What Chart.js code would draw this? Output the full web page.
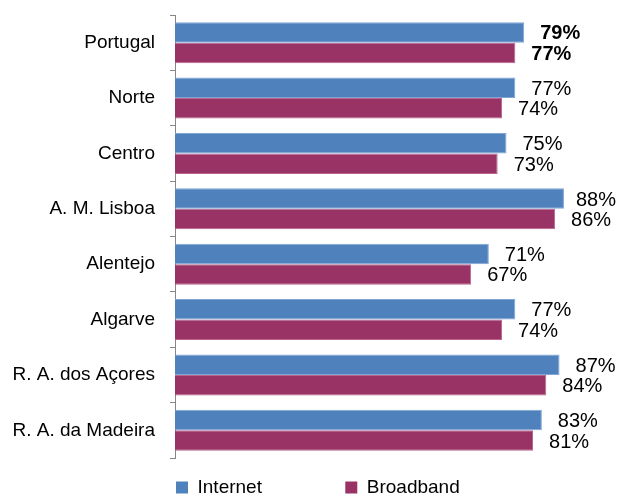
<!DOCTYPE html>
<html>
<head>
<meta charset="utf-8">
<script src="https://cdn.jsdelivr.net/npm/chart.js@4"></script>
<style>
  html, body { margin: 0; padding: 0; background: #fff; }
  #wrap { width: 617px; height: 496px; }
</style>
</head>
<body>
<div id="wrap"><canvas id="regionChart" width="617" height="496"></canvas></div>
<script>
const categories = ["Portugal", "Norte", "Centro", "A. M. Lisboa", "Alentejo", "Algarve", "R. A. dos Açores", "R. A. da Madeira"];
const internetValues = [79, 77, 75, 88, 71, 77, 87, 83];
const broadbandValues = [77, 74, 73, 86, 67, 74, 84, 81];
const seriesNames = ["Internet", "Broadband"];
const boldCategory = "Portugal";

const FONT = "'Liberation Sans', Arial, sans-serif";

// value labels to the right of each bar
const valueLabels = {
    id: "valueLabels",
    afterDatasetsDraw(chart) {
        const ctx = chart.ctx;
        ctx.save();
        ctx.fillStyle = "#000";
        ctx.textBaseline = "middle";
        ctx.textAlign = "left";
        chart.data.datasets.forEach((ds, di) => {
            const meta = chart.getDatasetMeta(di);
            meta.data.forEach((bar, i) => {
                const bold = chart.data.labels[i] === boldCategory;
                ctx.font = (bold ? "bold " : "") + "20px " + FONT;
                const txt = ds.data[i] + "%";
                const w = ctx.measureText(txt).width;
                let x = bar.x + 16;
                if (x + w > chart.width - 1) x = chart.width - 1 - w;
                ctx.fillText(txt, x, bar.y + 1.5);
            });
        });
        ctx.restore();
    }
};

const ctx = document.getElementById("regionChart").getContext("2d");
window.regionChart = new Chart(ctx, {
    type: "bar",
    data: {
        labels: categories,
        datasets: [{
            label: seriesNames[0],
            data: internetValues,
            backgroundColor: "#4F81BD",
            borderColor: "#7FA6D6",
            borderWidth: 1
        }, {
            label: seriesNames[1],
            data: broadbandValues,
            backgroundColor: "#993366",
            borderColor: "#B8648C",
            borderWidth: 1
        }]
    },
    options: {
        indexAxis: "y",
        responsive: false,
        animation: false,
        datasets: {
            bar: { barPercentage: 1.0, categoryPercentage: 0.74 }
        },
        layout: { padding: { top: 15, right: 0, left: 0, bottom: -11 } },
        scales: {
            x: { display: false, min: 0, max: 100 },
            y: {
                afterFit: (scale) => {
                    scale.width = 175;
                    scale.paddingTop = 0;
                    scale.paddingBottom = 0;
                },
                grid: {
                    drawOnChartArea: false,
                    drawTicks: true,
                    tickLength: 5,
                    color: "#868686"
                },
                border: { display: true, color: "#868686" },
                ticks: {
                    color: "#000",
                    padding: 15,
                    font: { family: FONT, size: 19 }
                }
            }
        },
        plugins: {
            tooltip: { enabled: false },
            legend: {
                display: true,
                position: "bottom",
                align: "end",
                labels: {
                    color: "#000",
                    boxWidth: 12,
                    boxHeight: 12,
                    padding: 20,
                    font: { family: FONT, size: 19 },
                    generateLabels: (chart) => {
                        const items = Chart.defaults.plugins.legend.labels.generateLabels(chart);
                        const pad = [12, 26];
                        items.forEach((it, i) => {
                            it.lineWidth = 0;
                            it.text = it.text + " ".repeat(pad[i]);
                        });
                        return items;
                    }
                }
            }
        }
    },
    plugins: [valueLabels]
});
</script>
</body>
</html>
